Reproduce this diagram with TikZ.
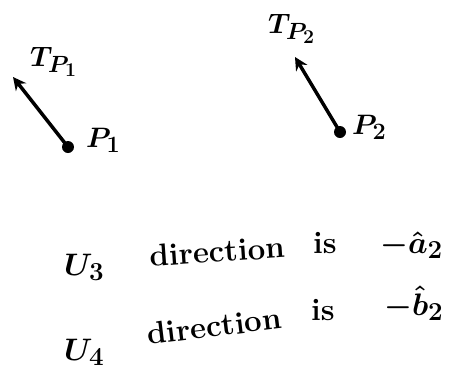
\documentclass[tikz,border=0pt]{standalone}
\usepackage{graphicx}
\usetikzlibrary{arrows.meta}
\newcommand{\bigtxt}[1]{\scalebox{1.25}{\Huge\bfseries\boldmath #1}}
\newcommand{\toptxt}[1]{\scalebox{1.13}{\Huge\boldmath #1}}
\begin{document}
\begin{tikzpicture}[x=1pt,y=-1pt,
  pointdot/.style={circle,fill=black,inner sep=0pt,minimum size=12pt},
  vecarrow/.style={line width=3.5pt,-{Stealth[length=13pt,width=13pt]}},
  toplabel/.style={anchor=base west,inner sep=0pt},
  bigtext/.style={anchor=base west,inner sep=0pt}]
\useasboundingbox (0,0) rectangle (464,373);
% points and vectors
\node[pointdot] (p1) at (68,147) {};
\coordinate (t1) at (13,77);
\draw[vecarrow] (p1.center) -- (t1);
\node[toplabel] (lt1) at (30,66) {\toptxt{$T_{P_1}$}};
\node[toplabel] (lp1) at (86,147) {\toptxt{$P_1$}};
\node[pointdot] (p2) at (340,132) {};
\coordinate (t2) at (295,57);
\draw[vecarrow] (p2.center) -- (t2);
\node[toplabel] (lt2) at (268,33) {\toptxt{$T_{P_2}$}};
\node[toplabel] (lp2) at (352,134) {\toptxt{$P_2$}};
% text lines
\node[bigtext] (u3) at (64,275) {\bigtxt{$U_3$}};
\node[bigtext,rotate=4] (d3) at (150,267) {\bigtxt{direction}};
\node[bigtext] (i3) at (313,253) {\bigtxt{is}};
\node[bigtext] (a3) at (380,253) {\bigtxt{$-\hat{a}_2$}};
\node[bigtext] (u4) at (64,360) {\bigtxt{$U_4$}};
\node[bigtext,rotate=7] (d4) at (148,345) {\bigtxt{direction}};
\node[bigtext] (i4) at (311,320) {\bigtxt{is}};
\node[bigtext] (b4) at (384,315) {\bigtxt{$-\hat{b}_2$}};
\end{tikzpicture}
\end{document}
